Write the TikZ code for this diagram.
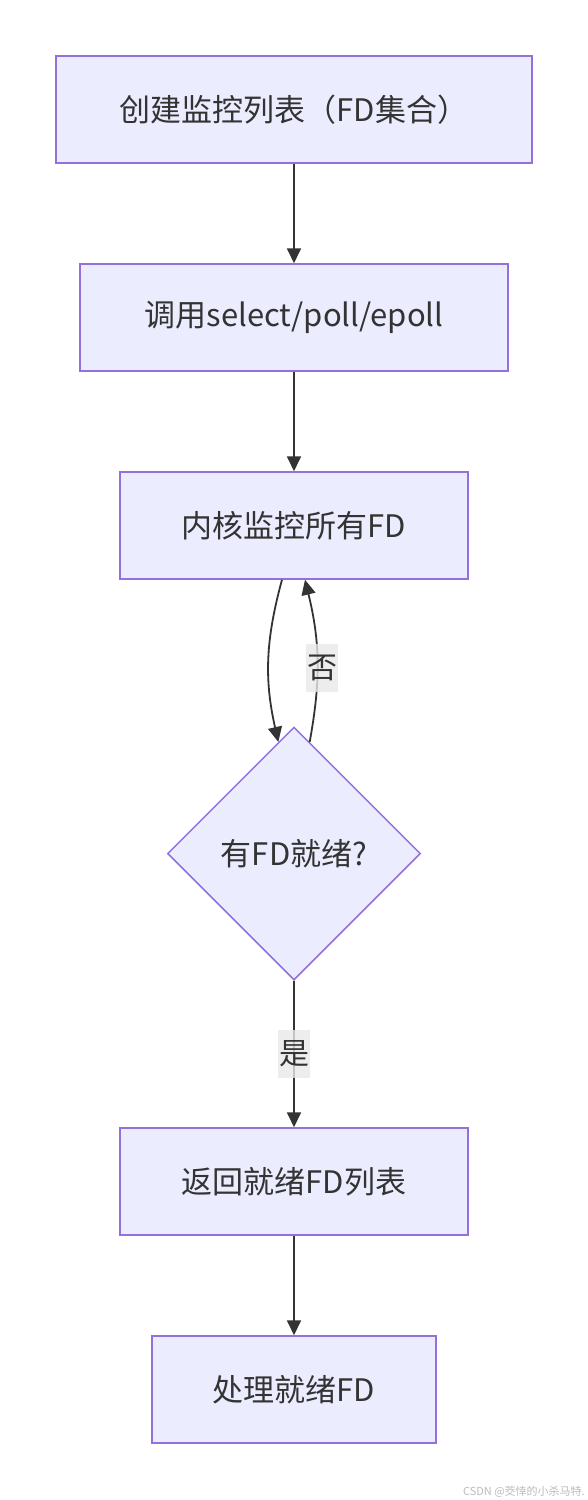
\documentclass[tikz,border=0pt]{standalone}
\usepackage{fontspec}
\setmainfont{Noto Sans CJK SC}
\usetikzlibrary{shapes.geometric,arrows.meta,positioning}
\definecolor{boxfill}{HTML}{ECECFF}
\definecolor{boxline}{HTML}{9370DB}
\definecolor{arrowgray}{HTML}{333333}
\definecolor{lblgray}{HTML}{E8E8E8}
\definecolor{markgray}{HTML}{BBBBBB}

\begin{document}
\begin{tikzpicture}[x=1pt,y=-1pt,
    stepbox/.style={draw=boxline, fill=boxfill, line width=1.5pt, minimum height=107pt,
        inner sep=0pt, text=arrowgray, font=\fontsize{31}{37}\selectfont},
    choice/.style={shape=diamond, draw=boxline, fill=boxfill, line width=1.5pt, aspect=1,
        minimum size=253pt, inner sep=0pt, text=arrowgray, font=\fontsize{31}{37}\selectfont},
    flow/.style={draw=arrowgray, line width=1.8pt, -{Triangle[length=15pt,width=14pt]}},
    lbl/.style={fill=lblgray, fill opacity=0.8, text opacity=1, text=arrowgray,
        minimum width=32pt, minimum height=48pt, inner sep=0pt, font=\fontsize{30}{36}\selectfont}]
\useasboundingbox (0,0) rectangle (588,1500);

% Steps
\node[stepbox, minimum width=476pt] (create) at (294,109.5) {创建监控列表（FD集合）};
\node[stepbox, minimum width=428pt] (call) at (294,317.5) {调用select/poll/epoll};
\node[stepbox, minimum width=348pt] (kernel) at (294,525.5) {内核监控所有FD};
\node[choice] (ready) at (294,853.5) {有FD就绪?};
\node[stepbox, minimum width=348pt] (retlist) at (294,1181.5) {返回就绪FD列表};
\node[stepbox, minimum width=284pt] (handle) at (294,1389.5) {处理就绪FD};

% Straight flow
\draw[flow] (create) -- (call);
\draw[flow] (call) -- (kernel);
\draw[flow] (retlist) -- (handle);

% Loop between kernel and check
\draw[flow] ([xshift=-12pt]kernel.south) to[bend right=14] (ready.98);
\draw[flow] (ready.82) to[bend right=12] node[lbl, pos=0.45, xshift=5pt] {否} ([xshift=11pt]kernel.south);

% Yes branch
\draw[flow] (ready) -- node[lbl] {是} (retlist);

% Watermark
\node[anchor=east, inner sep=0pt, text=markgray, font=\fontsize{11}{13}\selectfont] (mark) at (585,1492) {CSDN @茭悻的小杀马特.};
\end{tikzpicture}
\end{document}
